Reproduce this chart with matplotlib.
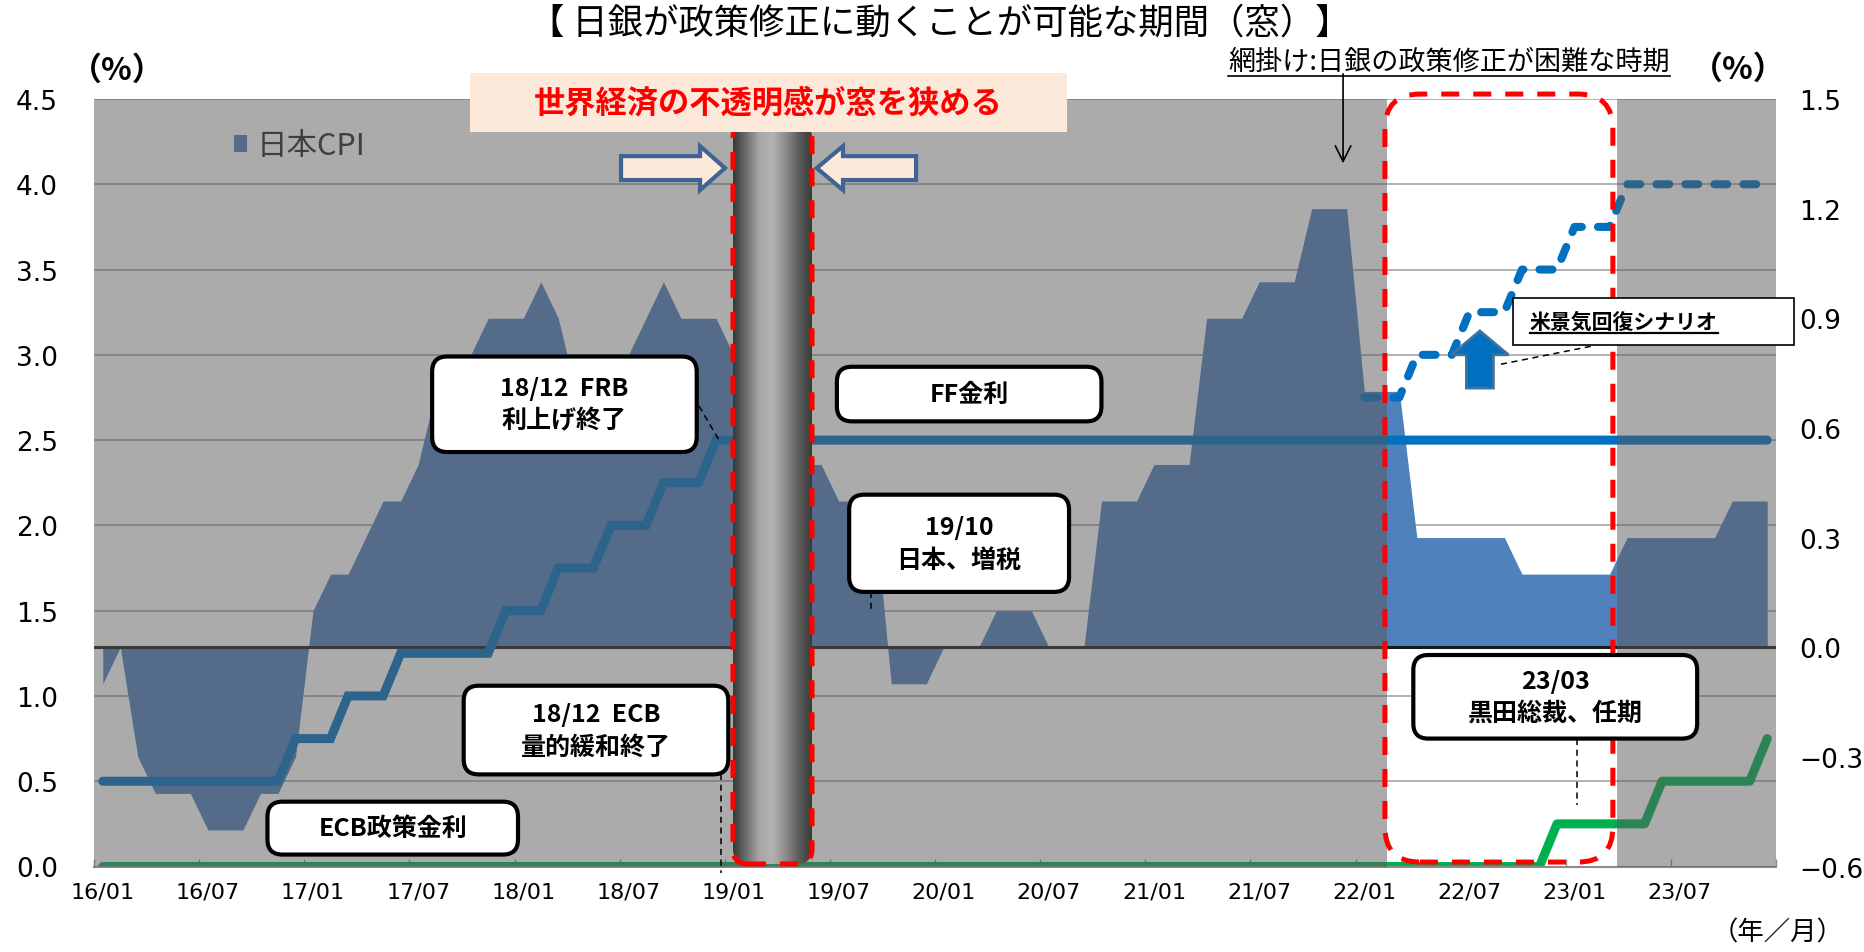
import matplotlib
matplotlib.use('Agg')
import matplotlib.pyplot as plt
import numpy as np
import pandas as pd
from matplotlib.patches import FancyBboxPatch, Rectangle, Polygon, Patch
from matplotlib.lines import Line2D
from matplotlib.colors import LinearSegmentedColormap
from matplotlib.transforms import blended_transform_factory, IdentityTransform

JP = 'Noto Sans CJK JP'
NUM = 'DejaVu Sans'
plt.rcParams['font.family'] = [JP, 'DejaVu Sans']

# monthly categories 2016/01 - 2023/12
months = pd.date_range('2016-01-01', periods=96, freq='MS').strftime('%y/%m')

# Japan CPI, y/y % (right axis)
cpi = [-0.1, 0.0, -0.3, -0.4, -0.4, -0.4, -0.5, -0.5, -0.5, -0.4, -0.4, -0.3,
       0.1, 0.2, 0.2, 0.3, 0.4, 0.4, 0.5, 0.7, 0.7, 0.8, 0.9, 0.9,
       0.9, 1.0, 0.9, 0.7, 0.7, 0.8, 0.8, 0.9, 1.0, 0.9, 0.9, 0.9,
       0.8, 0.7, 0.8, 0.6, 0.5, 0.5, 0.4, 0.4, 0.4, -0.1, -0.1, -0.1,
       0.0, 0.0, 0.0, 0.1, 0.1, 0.1, 0.0, 0.0, 0.0, 0.4, 0.4, 0.4,
       0.5, 0.5, 0.5, 0.9, 0.9, 0.9, 1.0, 1.0, 1.0, 1.2, 1.2, 1.2,
       0.7, 0.7, 0.7, 0.3, 0.3, 0.3, 0.3, 0.3, 0.3, 0.2, 0.2, 0.2,
       0.2, 0.2, 0.2, 0.3, 0.3, 0.3, 0.3, 0.3, 0.3, 0.4, 0.4, 0.4]

# FF rate upper bound, % (left axis)
ff = [0.5, 0.5, 0.5, 0.5, 0.5, 0.5, 0.5, 0.5, 0.5, 0.5, 0.5, 0.75,
      0.75, 0.75, 1.0, 1.0, 1.0, 1.25, 1.25, 1.25, 1.25, 1.25, 1.25, 1.5,
      1.5, 1.5, 1.75, 1.75, 1.75, 2.0, 2.0, 2.0, 2.25, 2.25, 2.25, 2.5,
      2.5, 2.5, 2.5, 2.5, 2.5, 2.5, 2.5, 2.5, 2.5, 2.5, 2.5, 2.5,
      2.5, 2.5, 2.5, 2.5, 2.5, 2.5, 2.5, 2.5, 2.5, 2.5, 2.5, 2.5,
      2.5, 2.5, 2.5, 2.5, 2.5, 2.5, 2.5, 2.5, 2.5, 2.5, 2.5, 2.5,
      2.5, 2.5, 2.5, 2.5, 2.5, 2.5, 2.5, 2.5, 2.5, 2.5, 2.5, 2.5,
      2.5, 2.5, 2.5, 2.5, 2.5, 2.5, 2.5, 2.5, 2.5, 2.5, 2.5, 2.5]

# US recovery scenario for the FF rate (from 2022/01)
nan = np.nan
ff_scenario = [nan] * 72 + [2.75, 2.75, 2.75, 3.0, 3.0, 3.0, 3.25, 3.25, 3.25, 3.5, 3.5, 3.5,
                            3.75, 3.75, 3.75, 4.0, 4.0, 4.0, 4.0, 4.0, 4.0, 4.0, 4.0, 4.0]

# ECB policy rate, % (left axis)
ecb = [0.0] * 83 + [0.25, 0.25, 0.25, 0.25, 0.25, 0.25,
                    0.5, 0.5, 0.5, 0.5, 0.5, 0.5, 0.75]

# span left unshaded (policy change possible), in category units
window = (73.3, 86.45)

x = np.arange(len(months))

fig = plt.figure(figsize=(18.65, 9.53), dpi=100)
ax = fig.add_axes([94 / 1865, 85.5 / 953, 1682 / 1865, 767.5 / 953])
ax_r = ax.twinx()
ax.set_xlim(-0.5, 95.5)
ax.set_ylim(0, 4.5)
ax_r.set_ylim(-0.6, 1.5)

bb = ax.get_window_extent()
px_x = bb.width / 96
aspect = px_x / (bb.height / 4.5)


def rbox(x0, y0, x1, y1, r_px, **kw):
    return FancyBboxPatch((x0, y0), x1 - x0, y1 - y0,
                          boxstyle=f'round,pad=0,rounding_size={r_px / px_x}',
                          mutation_aspect=aspect, transform=ax.transData, **kw)


# CPI area against the right axis, plus its zero line
ax.fill_between(x, cpi, 0, transform=ax_r.transData, color='#4F81BD', lw=0, zorder=1)
ax.plot([0, 1], [0, 0], transform=blended_transform_factory(ax.transAxes, ax_r.transData),
        color='#1a1a1a', lw=2.2, zorder=1.5)

ax.plot(x, ff, color='#0070C0', lw=6.5, solid_capstyle='round', solid_joinstyle='miter', zorder=2)
ax.plot(x, ff_scenario, color='#0070C0', lw=5.8, ls=(0, (1.6, 2.0)),
        dash_capstyle='round', zorder=2)
ax.plot(x, ecb, color='#00B050', lw=6.5, solid_capstyle='round', zorder=2)

leg = ax.legend(handles=[Patch(facecolor='#4F81BD', label='日本CPI')], loc='center left',
                bbox_to_anchor=(0.083, 0.939), frameon=False, handlelength=0.45,
                handleheight=0.45, handletextpad=0.3, borderaxespad=0, borderpad=0,
                prop={'family': JP, 'size': 22})
for t in leg.get_texts():
    t.set_color('#262626')
leg.set_zorder(2.5)

# shading: periods when a policy change is difficult
ax.add_patch(Rectangle((-0.5, 0), window[0] + 0.5, 4.5, fc='#595959', alpha=0.5, lw=0, zorder=3))
ax.add_patch(Rectangle((window[1], 0), 95.5 - window[1], 4.5, fc='#595959', alpha=0.5, lw=0, zorder=3))

# closed window around 2019/01 drawn as a shaded column
cyl = (35.97, 0.015, 40.48, 4.36)
shade = LinearSegmentedColormap.from_list(
    'cyl', ['#383838', '#6e6e6e', '#a8a8a8', '#b2b2b2', '#8a8a8a', '#5a5a5a', '#383838'])
im = ax.imshow(np.linspace(0, 1, 256)[None, :], cmap=shade, aspect='auto',
               extent=(cyl[0], cyl[2], cyl[1], cyl[3]), zorder=4, interpolation='bilinear')
im.set_clip_path(rbox(*cyl, 15))
ax.add_patch(rbox(*cyl, 15, fill=False, ec='red', lw=3.6, ls=(0, (3.6, 2.8)),
                  zorder=5, clip_on=False))
ax.add_patch(rbox(73.18, 0.026, 86.19, 4.529, 35, fill=False, ec='red', lw=3.6,
                  ls=(0, (3.6, 2.8)), zorder=5, clip_on=False))

# leader lines
leaders = [((34.03, 35.23), (2.70, 2.49)),
           ((35.29, 35.29), (0.54, -0.04)),
           ((43.82, 43.82), (1.61, 1.51)),
           ((84.13, 84.13), (0.75, 0.36)),
           ((84.93, 79.56), (3.05, 2.94))]
for lx, ly in leaders:
    ax.plot(lx, ly, color='black', lw=1.1, ls=(0, (4, 3)), zorder=5.5, clip_on=False)

# callout boxes
notes = [((18.8, 2.43, 33.9, 2.99), '18/12  FRB\n利上げ終了'),
         ((20.6, 0.54, 35.7, 1.06), '18/12  ECB\n量的緩和終了'),
         ((9.4, 0.07, 23.7, 0.38), 'ECB政策金利'),
         ((41.9, 2.61, 57.0, 2.93), 'FF金利'),
         ((42.6, 1.61, 55.15, 2.18), '19/10\n日本、増税'),
         ((74.8, 0.75, 91.0, 1.24), '23/03\n黒田総裁、任期')]
for (x0, y0, x1, y1), txt in notes:
    ax.add_patch(rbox(x0, y0, x1, y1, 15, fc='white', ec='black', lw=3, zorder=6, clip_on=False))
    ax.text((x0 + x1) / 2, (y0 + y1) / 2, txt, ha='center', va='center', fontsize=18,
            fontweight='bold', linespacing=1.45, zorder=7, clip_on=False)

# banner above the closed window
ax.add_patch(Rectangle((20.96, 4.306), 34.07, 0.346, fc='#FDE9D9', ec='none', zorder=6, clip_on=False))
ax.text(37.99, 4.479, '世界経済の不透明感が窓を狭める', ha='center', va='center', color='red',
        fontsize=22.5, fontweight='bold', zorder=7, clip_on=False)


def block_arrow(tail, base, tip, yc, shaft_h, head_h):
    return Polygon([(tail, yc - shaft_h), (base, yc - shaft_h), (base, yc - head_h), (tip, yc),
                    (base, yc + head_h), (base, yc + shaft_h), (tail, yc + shaft_h)],
                   closed=True, fc='#FDE9D9', ec='#3E6494', lw=3, zorder=6, clip_on=False)


ax.add_patch(block_arrow(29.58, 34.09, 35.51, 4.095, 0.07, 0.129))
ax.add_patch(block_arrow(46.42, 42.25, 40.75, 4.095, 0.07, 0.129))

# upward arrow for the recovery scenario
xc = 78.6
ax.add_patch(Polygon([(xc - 0.77, 2.805), (xc + 0.77, 2.805), (xc + 0.77, 3.0), (xc + 1.63, 3.0),
                      (xc, 3.14), (xc - 1.63, 3.0), (xc - 0.77, 3.0)], closed=True,
                     fc='#0070C0', ec='#41719C', lw=2, zorder=6))
ax.add_patch(Rectangle((80.49, 3.058), 16.04, 0.275, fc='white', ec='black', lw=1.2,
                       zorder=6, clip_on=False))
scen = ax.text(81.46, 3.2, '米景気回復シナリオ', ha='left', va='center', fontsize=15,
               fontweight='bold', zorder=7, clip_on=False)

# note on shading with arrow
shade_note = ax.text(76.84, 4.723, '網掛け:日銀の政策修正が困難な時期', ha='center', va='center',
                     fontsize=19.5, zorder=7, clip_on=False)
ax.annotate('', xy=(70.79, 4.107), xytext=(70.79, 4.664), annotation_clip=False,
            arrowprops=dict(arrowstyle='->', lw=1.2, color='black', mutation_scale=28))

# axes styling
for s in ['left', 'right', 'top']:
    ax.spines[s].set_visible(False)
    ax_r.spines[s].set_visible(False)
ax_r.spines['bottom'].set_visible(False)
ax.spines['bottom'].set_color('#8C8C8C')
ax.spines['bottom'].set_linewidth(1.5)

ax.set_yticks([0, 0.5, 1.0, 1.5, 2.0, 2.5, 3.0, 3.5, 4.0, 4.5])
ax.set_yticklabels([f'{v:.1f}' for v in ax.get_yticks()], fontfamily=NUM, fontsize=19)
ax.tick_params(axis='y', length=0, pad=26)
ax.grid(axis='y', color='#A6A6A6', lw=1.2)
ax.set_axisbelow(True)

ax.set_xticks(x[::6])
ax.set_xticklabels(months[::6], fontfamily=NUM, fontsize=16)
ax.set_xticks(np.arange(-0.5, 96, 6), minor=True)
ax.tick_params(axis='x', which='major', length=0, pad=11)
ax.tick_params(axis='x', which='minor', direction='in', length=6, width=1, color='#8C8C8C')

r_ticks = [-0.6, -0.3, 0.0, 0.3, 0.6, 0.9, 1.2, 1.5]
ax_r.set_yticks(r_ticks)
ax_r.set_yticklabels([f'{v:.1f}'.replace('-', '\u2212') for v in r_ticks], fontfamily=NUM, fontsize=19)
ax_r.tick_params(axis='y', length=0, pad=17)

fig.text(940 / 1865, 1 - 24 / 953, '【 日銀が政策修正に動くことが可能な期間（窓）】',
         ha='center', va='center', fontsize=25.5)
fig.text(117 / 1865, 1 - 71 / 953, '（%）', ha='center', va='center', fontsize=23, fontweight='bold')
fig.text(1738 / 1865, 1 - 70 / 953, '（%）', ha='center', va='center', fontsize=23, fontweight='bold')
fig.text(1778 / 1865, 1 - 933 / 953, '（年／月）', ha='center', va='center', fontsize=19)


def underline(t, lw, gap=1.5):
    fig.canvas.draw()
    e = t.get_window_extent()
    fig.add_artist(Line2D([e.x0, e.x1], [e.y0 - gap, e.y0 - gap], transform=IdentityTransform(),
                          color='black', lw=lw, zorder=8))


underline(scen, 1.6)
underline(shade_note, 1.2)

fig.savefig('out.png', dpi=100)
